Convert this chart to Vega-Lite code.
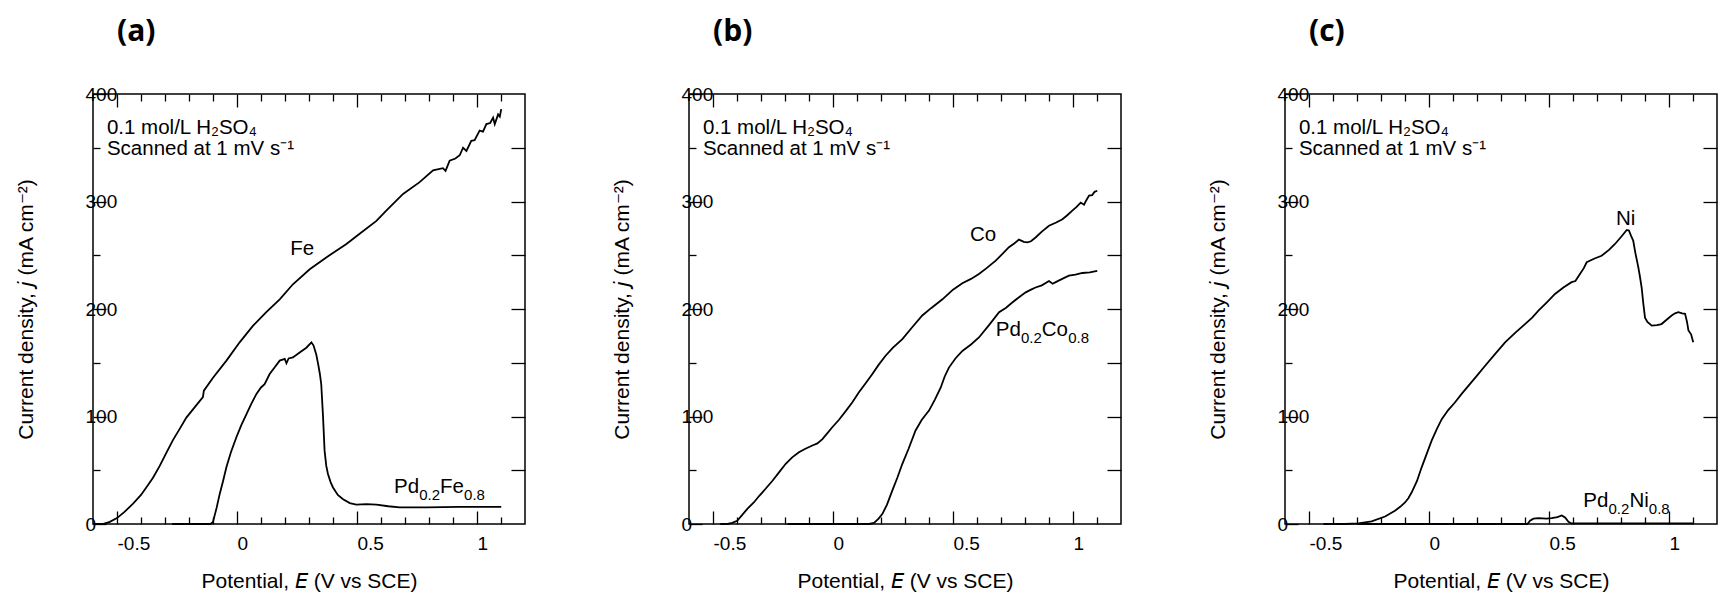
{
"$schema": "https://vega.github.io/schema/vega-lite/v6.json",
"padding": {"left": 14, "top": 16, "right": 0, "bottom": 0},
"autosize": {"type": "pad"},
"spacing": 164,
"bounds": "flush",
"config": {
  "view": {"stroke": "black", "strokeWidth": 1.5},
  "axis": {"grid": false, "domain": false, "tickColor": "black", "tickWidth": 1.3, "labelColor": "black", "labelFont": "Liberation Sans", "labelFontSize": 19, "titleFont": "Liberation Sans", "titleFontSize": 21, "titleFontWeight": "normal", "titleColor": "black", "labelFlush": false, "labelOverlap": false, "labelBound": false},
  "text": {"font": "Liberation Sans", "fontSize": 20.5, "color": "black"},
  "line": {"color": "black", "strokeWidth": 1.8},
  "title": {"anchor": "start", "frame": "group", "dx": 24, "offset": 38, "font": "Open Sans", "fontSize": 30, "fontWeight": "bold", "color": "black", "baseline": "alphabetic"}
},
"datasets": {
  "curves": [
    {"p":"a","s":"Fe","E":-0.6,"j":0},{"p":"a","s":"Fe","E":-0.56,"j":0},{"p":"a","s":"Fe","E":-0.53,"j":2},{"p":"a","s":"Fe","E":-0.5,"j":5.5},{"p":"a","s":"Fe","E":-0.47,"j":11},{"p":"a","s":"Fe","E":-0.433,"j":19},{"p":"a","s":"Fe","E":-0.4,"j":27},{"p":"a","s":"Fe","E":-0.378,"j":34},{"p":"a","s":"Fe","E":-0.35,"j":43},{"p":"a","s":"Fe","E":-0.322,"j":54},{"p":"a","s":"Fe","E":-0.295,"j":66},{"p":"a","s":"Fe","E":-0.267,"j":78},{"p":"a","s":"Fe","E":-0.24,"j":88},{"p":"a","s":"Fe","E":-0.211,"j":99},{"p":"a","s":"Fe","E":-0.175,"j":109},{"p":"a","s":"Fe","E":-0.142,"j":118},{"p":"a","s":"Fe","E":-0.138,"j":124},{"p":"a","s":"Fe","E":-0.1,"j":136},{"p":"a","s":"Fe","E":-0.044,"j":152},{"p":"a","s":"Fe","E":0.011,"j":169},{"p":"a","s":"Fe","E":0.067,"j":184.5},{"p":"a","s":"Fe","E":0.122,"j":197},{"p":"a","s":"Fe","E":0.178,"j":209},{"p":"a","s":"Fe","E":0.233,"j":223},{"p":"a","s":"Fe","E":0.303,"j":237},{"p":"a","s":"Fe","E":0.372,"j":248},{"p":"a","s":"Fe","E":0.456,"j":260.5},{"p":"a","s":"Fe","E":0.511,"j":270},{"p":"a","s":"Fe","E":0.581,"j":282},{"p":"a","s":"Fe","E":0.622,"j":291.5},{"p":"a","s":"Fe","E":0.692,"j":307},{"p":"a","s":"Fe","E":0.761,"j":318},{"p":"a","s":"Fe","E":0.817,"j":329},{"p":"a","s":"Fe","E":0.858,"j":331},{"p":"a","s":"Fe","E":0.869,"j":328.5},{"p":"a","s":"Fe","E":0.886,"j":338},{"p":"a","s":"Fe","E":0.91,"j":340},{"p":"a","s":"Fe","E":0.928,"j":343},{"p":"a","s":"Fe","E":0.942,"j":350},{"p":"a","s":"Fe","E":0.956,"j":347},{"p":"a","s":"Fe","E":0.976,"j":356.5},{"p":"a","s":"Fe","E":0.99,"j":357},{"p":"a","s":"Fe","E":1.011,"j":366},{"p":"a","s":"Fe","E":1.025,"j":365},{"p":"a","s":"Fe","E":1.039,"j":372},{"p":"a","s":"Fe","E":1.055,"j":373},{"p":"a","s":"Fe","E":1.067,"j":378},{"p":"a","s":"Fe","E":1.074,"j":372},{"p":"a","s":"Fe","E":1.088,"j":381},{"p":"a","s":"Fe","E":1.095,"j":379},{"p":"a","s":"Fe","E":1.101,"j":386},
    {"p":"a","s":"PdFe","E":-0.27,"j":0},{"p":"a","s":"PdFe","E":-0.11,"j":0},{"p":"a","s":"PdFe","E":-0.1,"j":2},{"p":"a","s":"PdFe","E":-0.085,"j":15},{"p":"a","s":"PdFe","E":-0.072,"j":28},{"p":"a","s":"PdFe","E":-0.058,"j":40},{"p":"a","s":"PdFe","E":-0.044,"j":53},{"p":"a","s":"PdFe","E":-0.025,"j":67},{"p":"a","s":"PdFe","E":-0.003,"j":80.5},{"p":"a","s":"PdFe","E":0.018,"j":92},{"p":"a","s":"PdFe","E":0.039,"j":102},{"p":"a","s":"PdFe","E":0.06,"j":112},{"p":"a","s":"PdFe","E":0.081,"j":121},{"p":"a","s":"PdFe","E":0.1,"j":127},{"p":"a","s":"PdFe","E":0.115,"j":130},{"p":"a","s":"PdFe","E":0.136,"j":139.5},{"p":"a","s":"PdFe","E":0.158,"j":146},{"p":"a","s":"PdFe","E":0.178,"j":152},{"p":"a","s":"PdFe","E":0.199,"j":153.5},{"p":"a","s":"PdFe","E":0.206,"j":149.5},{"p":"a","s":"PdFe","E":0.215,"j":154},{"p":"a","s":"PdFe","E":0.233,"j":155},{"p":"a","s":"PdFe","E":0.261,"j":159.5},{"p":"a","s":"PdFe","E":0.289,"j":164},{"p":"a","s":"PdFe","E":0.31,"j":169},{"p":"a","s":"PdFe","E":0.319,"j":166},{"p":"a","s":"PdFe","E":0.33,"j":158},{"p":"a","s":"PdFe","E":0.338,"j":149},{"p":"a","s":"PdFe","E":0.345,"j":140},{"p":"a","s":"PdFe","E":0.351,"j":130},{"p":"a","s":"PdFe","E":0.358,"j":102},{"p":"a","s":"PdFe","E":0.365,"j":68},{"p":"a","s":"PdFe","E":0.372,"j":54},{"p":"a","s":"PdFe","E":0.379,"j":46.5},{"p":"a","s":"PdFe","E":0.39,"j":39},{"p":"a","s":"PdFe","E":0.4,"j":34},{"p":"a","s":"PdFe","E":0.42,"j":27},{"p":"a","s":"PdFe","E":0.442,"j":23},{"p":"a","s":"PdFe","E":0.47,"j":19.5},{"p":"a","s":"PdFe","E":0.497,"j":18},{"p":"a","s":"PdFe","E":0.54,"j":18.5},{"p":"a","s":"PdFe","E":0.581,"j":18},{"p":"a","s":"PdFe","E":0.63,"j":16.5},{"p":"a","s":"PdFe","E":0.678,"j":15.5},{"p":"a","s":"PdFe","E":0.789,"j":15.5},{"p":"a","s":"PdFe","E":0.928,"j":16},{"p":"a","s":"PdFe","E":1.101,"j":16},
    {"p":"b","s":"Co","E":-0.47,"j":0},{"p":"b","s":"Co","E":-0.44,"j":0},{"p":"b","s":"Co","E":-0.42,"j":1},{"p":"b","s":"Co","E":-0.399,"j":3},{"p":"b","s":"Co","E":-0.38,"j":8},{"p":"b","s":"Co","E":-0.357,"j":14},{"p":"b","s":"Co","E":-0.33,"j":20},{"p":"b","s":"Co","E":-0.308,"j":26},{"p":"b","s":"Co","E":-0.28,"j":33},{"p":"b","s":"Co","E":-0.253,"j":40},{"p":"b","s":"Co","E":-0.225,"j":48},{"p":"b","s":"Co","E":-0.197,"j":56},{"p":"b","s":"Co","E":-0.17,"j":62},{"p":"b","s":"Co","E":-0.142,"j":66.7},{"p":"b","s":"Co","E":-0.115,"j":70},{"p":"b","s":"Co","E":-0.086,"j":73},{"p":"b","s":"Co","E":-0.065,"j":75},{"p":"b","s":"Co","E":-0.044,"j":79},{"p":"b","s":"Co","E":-0.025,"j":84},{"p":"b","s":"Co","E":-0.003,"j":90},{"p":"b","s":"Co","E":0.025,"j":97},{"p":"b","s":"Co","E":0.053,"j":105},{"p":"b","s":"Co","E":0.08,"j":113},{"p":"b","s":"Co","E":0.108,"j":122.5},{"p":"b","s":"Co","E":0.136,"j":131},{"p":"b","s":"Co","E":0.164,"j":139.5},{"p":"b","s":"Co","E":0.19,"j":148},{"p":"b","s":"Co","E":0.219,"j":156.5},{"p":"b","s":"Co","E":0.25,"j":164},{"p":"b","s":"Co","E":0.289,"j":172},{"p":"b","s":"Co","E":0.33,"j":183},{"p":"b","s":"Co","E":0.372,"j":194},{"p":"b","s":"Co","E":0.41,"j":201},{"p":"b","s":"Co","E":0.456,"j":209},{"p":"b","s":"Co","E":0.5,"j":218},{"p":"b","s":"Co","E":0.539,"j":224},{"p":"b","s":"Co","E":0.575,"j":228},{"p":"b","s":"Co","E":0.608,"j":232.5},{"p":"b","s":"Co","E":0.64,"j":238},{"p":"b","s":"Co","E":0.678,"j":245},{"p":"b","s":"Co","E":0.705,"j":251},{"p":"b","s":"Co","E":0.733,"j":257.5},{"p":"b","s":"Co","E":0.755,"j":261},{"p":"b","s":"Co","E":0.775,"j":264.5},{"p":"b","s":"Co","E":0.795,"j":262.5},{"p":"b","s":"Co","E":0.81,"j":262},{"p":"b","s":"Co","E":0.825,"j":263},{"p":"b","s":"Co","E":0.844,"j":266.5},{"p":"b","s":"Co","E":0.87,"j":272},{"p":"b","s":"Co","E":0.9,"j":277.5},{"p":"b","s":"Co","E":0.93,"j":280.5},{"p":"b","s":"Co","E":0.956,"j":283.5},{"p":"b","s":"Co","E":0.975,"j":287},{"p":"b","s":"Co","E":0.997,"j":291.5},{"p":"b","s":"Co","E":1.015,"j":295},{"p":"b","s":"Co","E":1.032,"j":299},{"p":"b","s":"Co","E":1.046,"j":297},{"p":"b","s":"Co","E":1.055,"j":301},{"p":"b","s":"Co","E":1.067,"j":305.5},{"p":"b","s":"Co","E":1.08,"j":306},{"p":"b","s":"Co","E":1.09,"j":309},{"p":"b","s":"Co","E":1.101,"j":310},
    {"p":"b","s":"PdCo","E":-0.19,"j":0},{"p":"b","s":"PdCo","E":0.15,"j":0},{"p":"b","s":"PdCo","E":0.171,"j":1},{"p":"b","s":"PdCo","E":0.19,"j":5},{"p":"b","s":"PdCo","E":0.206,"j":9.5},{"p":"b","s":"PdCo","E":0.225,"j":18},{"p":"b","s":"PdCo","E":0.247,"j":31},{"p":"b","s":"PdCo","E":0.268,"j":43},{"p":"b","s":"PdCo","E":0.289,"j":56},{"p":"b","s":"PdCo","E":0.315,"j":70},{"p":"b","s":"PdCo","E":0.344,"j":87},{"p":"b","s":"PdCo","E":0.37,"j":97},{"p":"b","s":"PdCo","E":0.4,"j":105.5},{"p":"b","s":"PdCo","E":0.425,"j":116},{"p":"b","s":"PdCo","E":0.449,"j":127},{"p":"b","s":"PdCo","E":0.465,"j":137},{"p":"b","s":"PdCo","E":0.483,"j":145.5},{"p":"b","s":"PdCo","E":0.51,"j":154},{"p":"b","s":"PdCo","E":0.539,"j":161},{"p":"b","s":"PdCo","E":0.575,"j":167},{"p":"b","s":"PdCo","E":0.608,"j":173.5},{"p":"b","s":"PdCo","E":0.65,"j":185},{"p":"b","s":"PdCo","E":0.692,"j":197},{"p":"b","s":"PdCo","E":0.72,"j":201},{"p":"b","s":"PdCo","E":0.747,"j":206},{"p":"b","s":"PdCo","E":0.775,"j":211},{"p":"b","s":"PdCo","E":0.803,"j":215.5},{"p":"b","s":"PdCo","E":0.825,"j":218},{"p":"b","s":"PdCo","E":0.844,"j":220},{"p":"b","s":"PdCo","E":0.87,"j":222},{"p":"b","s":"PdCo","E":0.9,"j":226},{"p":"b","s":"PdCo","E":0.915,"j":223.5},{"p":"b","s":"PdCo","E":0.928,"j":225},{"p":"b","s":"PdCo","E":0.955,"j":228},{"p":"b","s":"PdCo","E":0.983,"j":231},{"p":"b","s":"PdCo","E":1.01,"j":232},{"p":"b","s":"PdCo","E":1.039,"j":233.5},{"p":"b","s":"PdCo","E":1.07,"j":234},{"p":"b","s":"PdCo","E":1.101,"j":235.5},
    {"p":"c","s":"Ni","E":-0.44,"j":0},{"p":"c","s":"Ni","E":-0.35,"j":0},{"p":"c","s":"Ni","E":-0.294,"j":0.6},{"p":"c","s":"Ni","E":-0.239,"j":2.5},{"p":"c","s":"Ni","E":-0.183,"j":7},{"p":"c","s":"Ni","E":-0.142,"j":12.4},{"p":"c","s":"Ni","E":-0.12,"j":16},{"p":"c","s":"Ni","E":-0.1,"j":20},{"p":"c","s":"Ni","E":-0.086,"j":24},{"p":"c","s":"Ni","E":-0.072,"j":29.5},{"p":"c","s":"Ni","E":-0.05,"j":40},{"p":"c","s":"Ni","E":-0.031,"j":52.5},{"p":"c","s":"Ni","E":-0.01,"j":65},{"p":"c","s":"Ni","E":0.011,"j":77.5},{"p":"c","s":"Ni","E":0.032,"j":88},{"p":"c","s":"Ni","E":0.053,"j":97.5},{"p":"c","s":"Ni","E":0.08,"j":106},{"p":"c","s":"Ni","E":0.108,"j":113},{"p":"c","s":"Ni","E":0.136,"j":121},{"p":"c","s":"Ni","E":0.164,"j":128.5},{"p":"c","s":"Ni","E":0.2,"j":138},{"p":"c","s":"Ni","E":0.233,"j":147},{"p":"c","s":"Ni","E":0.275,"j":158},{"p":"c","s":"Ni","E":0.317,"j":169},{"p":"c","s":"Ni","E":0.36,"j":178},{"p":"c","s":"Ni","E":0.4,"j":186},{"p":"c","s":"Ni","E":0.43,"j":192},{"p":"c","s":"Ni","E":0.456,"j":198.5},{"p":"c","s":"Ni","E":0.49,"j":206},{"p":"c","s":"Ni","E":0.525,"j":214},{"p":"c","s":"Ni","E":0.56,"j":220},{"p":"c","s":"Ni","E":0.594,"j":225},{"p":"c","s":"Ni","E":0.61,"j":226},{"p":"c","s":"Ni","E":0.629,"j":232.5},{"p":"c","s":"Ni","E":0.645,"j":238},{"p":"c","s":"Ni","E":0.657,"j":243.5},{"p":"c","s":"Ni","E":0.69,"j":247},{"p":"c","s":"Ni","E":0.719,"j":249.5},{"p":"c","s":"Ni","E":0.75,"j":255},{"p":"c","s":"Ni","E":0.775,"j":260.5},{"p":"c","s":"Ni","E":0.8,"j":267},{"p":"c","s":"Ni","E":0.824,"j":273.5},{"p":"c","s":"Ni","E":0.833,"j":273},{"p":"c","s":"Ni","E":0.842,"j":268},{"p":"c","s":"Ni","E":0.851,"j":263.5},{"p":"c","s":"Ni","E":0.86,"j":252},{"p":"c","s":"Ni","E":0.872,"j":239},{"p":"c","s":"Ni","E":0.879,"j":230},{"p":"c","s":"Ni","E":0.886,"j":220},{"p":"c","s":"Ni","E":0.893,"j":205},{"p":"c","s":"Ni","E":0.9,"j":192},{"p":"c","s":"Ni","E":0.91,"j":188},{"p":"c","s":"Ni","E":0.928,"j":184.5},{"p":"c","s":"Ni","E":0.95,"j":185},{"p":"c","s":"Ni","E":0.969,"j":186},{"p":"c","s":"Ni","E":0.99,"j":190},{"p":"c","s":"Ni","E":1.011,"j":194},{"p":"c","s":"Ni","E":1.025,"j":196},{"p":"c","s":"Ni","E":1.039,"j":197},{"p":"c","s":"Ni","E":1.055,"j":196},{"p":"c","s":"Ni","E":1.067,"j":195.5},{"p":"c","s":"Ni","E":1.075,"j":188},{"p":"c","s":"Ni","E":1.081,"j":180},{"p":"c","s":"Ni","E":1.092,"j":176.5},{"p":"c","s":"Ni","E":1.101,"j":169},
    {"p":"c","s":"PdNi","E":-0.3,"j":0},{"p":"c","s":"PdNi","E":0.41,"j":0},{"p":"c","s":"PdNi","E":0.421,"j":3},{"p":"c","s":"PdNi","E":0.435,"j":5},{"p":"c","s":"PdNi","E":0.456,"j":5.5},{"p":"c","s":"PdNi","E":0.49,"j":5},{"p":"c","s":"PdNi","E":0.511,"j":5.5},{"p":"c","s":"PdNi","E":0.535,"j":6.5},{"p":"c","s":"PdNi","E":0.553,"j":8},{"p":"c","s":"PdNi","E":0.567,"j":6},{"p":"c","s":"PdNi","E":0.581,"j":2},{"p":"c","s":"PdNi","E":0.594,"j":0.5},{"p":"c","s":"PdNi","E":0.7,"j":0.5},{"p":"c","s":"PdNi","E":1.101,"j":0.5}
  ],
  "labels": [
    {"p":"a","k":"cond","E":-0.542,"j":368,"t":"0.1 mol/L H₂SO₄"},
    {"p":"a","k":"cond","E":-0.542,"j":349,"t":"Scanned at 1 mV s⁻¹"},
    {"p":"a","k":"ser","E":0.222,"j":256,"t":"Fe"},
    {"p":"a","k":"ser","E":0.654,"j":34,"t":"Pd"},
    {"p":"a","k":"sub","E":0.759,"j":34,"t":"0.2"},
    {"p":"a","k":"ser","E":0.846,"j":34,"t":"Fe"},
    {"p":"a","k":"sub","E":0.946,"j":34,"t":"0.8"},
    {"p":"b","k":"cond","E":-0.542,"j":368,"t":"0.1 mol/L H₂SO₄"},
    {"p":"b","k":"cond","E":-0.542,"j":349,"t":"Scanned at 1 mV s⁻¹"},
    {"p":"b","k":"ser","E":0.571,"j":269,"t":"Co"},
    {"p":"b","k":"ser","E":0.678,"j":180.5,"t":"Pd"},
    {"p":"b","k":"sub","E":0.783,"j":180.5,"t":"0.2"},
    {"p":"b","k":"ser","E":0.870,"j":180.5,"t":"Co"},
    {"p":"b","k":"sub","E":0.980,"j":180.5,"t":"0.8"},
    {"p":"c","k":"cond","E":-0.542,"j":368,"t":"0.1 mol/L H₂SO₄"},
    {"p":"c","k":"cond","E":-0.542,"j":349,"t":"Scanned at 1 mV s⁻¹"},
    {"p":"c","k":"ser","E":0.779,"j":283.7,"t":"Ni"},
    {"p":"c","k":"ser","E":0.643,"j":21,"t":"Pd"},
    {"p":"c","k":"sub","E":0.748,"j":21,"t":"0.2"},
    {"p":"c","k":"ser","E":0.835,"j":21,"t":"Ni"},
    {"p":"c","k":"sub","E":0.916,"j":21,"t":"0.8"}
  ]
},
"hconcat": [
  {
    "title": {"text": "(a)"},
    "width": 432, "height": 430,
    "resolve": {"axis": {"x": "independent", "y": "independent"}},
    "layer": [
      {"data": {"name": "curves"}, "transform": [{"filter": "datum.p === 'a' && datum.s === 'Fe'"}],
       "mark": {"type": "line"},
       "encoding": {
         "x": {"field": "E", "type": "quantitative", "scale": {"domain": [-0.6, 1.2], "nice": false, "zero": false},
               "axis": {"orient": "bottom", "values": [-0.5, 0, 0.5, 1], "tickSize": -13, "labelAlign": "left", "labelPadding": 23, "labelExpr": "replace(format(datum.value, '~g'), '−', '-')", "title": "Potential, 𝘌 (V vs SCE)", "titlePadding": 17}},
         "y": {"field": "j", "type": "quantitative", "scale": {"domain": [0, 400], "nice": false, "zero": false},
               "axis": {"orient": "left", "values": [0, 100, 200, 300, 400], "tickSize": -13, "labelAlign": "left", "labelPadding": 21, "format": "d", "title": "Current density, 𝘫 (mA cm⁻²)", "titlePadding": 49}}
       }},
      {"data": {"name": "curves"}, "transform": [{"filter": "datum.p === 'a' && datum.s === 'PdFe'"}],
       "mark": {"type": "line"},
       "encoding": {
         "x": {"field": "E", "type": "quantitative", "scale": {"domain": [-0.6, 1.2], "nice": false, "zero": false},
               "axis": {"orient": "bottom", "values": [-0.4, -0.3, -0.2, -0.1, 0.1, 0.2, 0.3, 0.4, 0.6, 0.7, 0.8, 0.9, 1.1], "tickSize": -7, "labels": false, "title": null}},
         "y": {"field": "j", "type": "quantitative", "scale": {"domain": [0, 400], "nice": false, "zero": false},
               "axis": {"orient": "left", "values": [50, 150, 250, 350], "tickSize": -7, "labels": false, "title": null}}
       }},
      {"data": {"name": "labels"}, "transform": [{"filter": "datum.p === 'a' && datum.k === 'cond'"}],
       "mark": {"type": "text", "align": "left", "baseline": "middle"},
       "encoding": {
         "x": {"field": "E", "type": "quantitative", "scale": {"domain": [-0.6, 1.2], "nice": false, "zero": false},
               "axis": {"orient": "top", "values": [-0.5, 0, 0.5, 1], "tickSize": -13, "labels": false, "title": null}},
         "y": {"field": "j", "type": "quantitative", "scale": {"domain": [0, 400], "nice": false, "zero": false},
               "axis": {"orient": "right", "values": [50, 100, 150, 200, 250, 300, 350], "tickSize": -14, "labels": false, "title": null}},
         "text": {"field": "t"}
       }},
      {"data": {"name": "labels"}, "transform": [{"filter": "datum.p === 'a' && datum.k === 'ser'"}],
       "mark": {"type": "text", "align": "left", "baseline": "middle"},
       "encoding": {
         "x": {"field": "E", "type": "quantitative", "scale": {"domain": [-0.6, 1.2], "nice": false, "zero": false},
               "axis": {"orient": "top", "values": [-0.4, -0.3, -0.2, -0.1, 0.1, 0.2, 0.3, 0.4, 0.6, 0.7, 0.8, 0.9, 1.1], "tickSize": -7, "labels": false, "title": null}},
         "y": {"field": "j", "type": "quantitative", "scale": {"domain": [0, 400], "nice": false, "zero": false}, "axis": null},
         "text": {"field": "t"}
       }},
      {"data": {"name": "labels"}, "transform": [{"filter": "datum.p === 'a' && datum.k === 'sub'"}],
       "mark": {"type": "text", "align": "left", "baseline": "middle", "fontSize": 15, "dy": 8},
       "encoding": {
         "x": {"field": "E", "type": "quantitative", "scale": {"domain": [-0.6, 1.2], "nice": false, "zero": false}, "axis": null},
         "y": {"field": "j", "type": "quantitative", "scale": {"domain": [0, 400], "nice": false, "zero": false}, "axis": null},
         "text": {"field": "t"}
       }}
    ]
  },
  {
    "title": {"text": "(b)"},
    "width": 432, "height": 430,
    "resolve": {"axis": {"x": "independent", "y": "independent"}},
    "layer": [
      {"data": {"name": "curves"}, "transform": [{"filter": "datum.p === 'b' && datum.s === 'Co'"}],
       "mark": {"type": "line"},
       "encoding": {
         "x": {"field": "E", "type": "quantitative", "scale": {"domain": [-0.6, 1.2], "nice": false, "zero": false},
               "axis": {"orient": "bottom", "values": [-0.5, 0, 0.5, 1], "tickSize": -13, "labelAlign": "left", "labelPadding": 23, "labelExpr": "replace(format(datum.value, '~g'), '−', '-')", "title": "Potential, 𝘌 (V vs SCE)", "titlePadding": 17}},
         "y": {"field": "j", "type": "quantitative", "scale": {"domain": [0, 400], "nice": false, "zero": false},
               "axis": {"orient": "left", "values": [0, 100, 200, 300, 400], "tickSize": -13, "labelAlign": "left", "labelPadding": 21, "format": "d", "title": "Current density, 𝘫 (mA cm⁻²)", "titlePadding": 49}}
       }},
      {"data": {"name": "curves"}, "transform": [{"filter": "datum.p === 'b' && datum.s === 'PdCo'"}],
       "mark": {"type": "line"},
       "encoding": {
         "x": {"field": "E", "type": "quantitative", "scale": {"domain": [-0.6, 1.2], "nice": false, "zero": false},
               "axis": {"orient": "bottom", "values": [-0.4, -0.3, -0.2, -0.1, 0.1, 0.2, 0.3, 0.4, 0.6, 0.7, 0.8, 0.9, 1.1], "tickSize": -7, "labels": false, "title": null}},
         "y": {"field": "j", "type": "quantitative", "scale": {"domain": [0, 400], "nice": false, "zero": false},
               "axis": {"orient": "left", "values": [50, 150, 250, 350], "tickSize": -7, "labels": false, "title": null}}
       }},
      {"data": {"name": "labels"}, "transform": [{"filter": "datum.p === 'b' && datum.k === 'cond'"}],
       "mark": {"type": "text", "align": "left", "baseline": "middle"},
       "encoding": {
         "x": {"field": "E", "type": "quantitative", "scale": {"domain": [-0.6, 1.2], "nice": false, "zero": false},
               "axis": {"orient": "top", "values": [-0.5, 0, 0.5, 1], "tickSize": -13, "labels": false, "title": null}},
         "y": {"field": "j", "type": "quantitative", "scale": {"domain": [0, 400], "nice": false, "zero": false},
               "axis": {"orient": "right", "values": [50, 100, 150, 200, 250, 300, 350], "tickSize": -14, "labels": false, "title": null}},
         "text": {"field": "t"}
       }},
      {"data": {"name": "labels"}, "transform": [{"filter": "datum.p === 'b' && datum.k === 'ser'"}],
       "mark": {"type": "text", "align": "left", "baseline": "middle"},
       "encoding": {
         "x": {"field": "E", "type": "quantitative", "scale": {"domain": [-0.6, 1.2], "nice": false, "zero": false},
               "axis": {"orient": "top", "values": [-0.4, -0.3, -0.2, -0.1, 0.1, 0.2, 0.3, 0.4, 0.6, 0.7, 0.8, 0.9, 1.1], "tickSize": -7, "labels": false, "title": null}},
         "y": {"field": "j", "type": "quantitative", "scale": {"domain": [0, 400], "nice": false, "zero": false}, "axis": null},
         "text": {"field": "t"}
       }},
      {"data": {"name": "labels"}, "transform": [{"filter": "datum.p === 'b' && datum.k === 'sub'"}],
       "mark": {"type": "text", "align": "left", "baseline": "middle", "fontSize": 15, "dy": 8},
       "encoding": {
         "x": {"field": "E", "type": "quantitative", "scale": {"domain": [-0.6, 1.2], "nice": false, "zero": false}, "axis": null},
         "y": {"field": "j", "type": "quantitative", "scale": {"domain": [0, 400], "nice": false, "zero": false}, "axis": null},
         "text": {"field": "t"}
       }}
    ]
  },
  {
    "title": {"text": "(c)"},
    "width": 432, "height": 430,
    "resolve": {"axis": {"x": "independent", "y": "independent"}},
    "layer": [
      {"data": {"name": "curves"}, "transform": [{"filter": "datum.p === 'c' && datum.s === 'Ni'"}],
       "mark": {"type": "line"},
       "encoding": {
         "x": {"field": "E", "type": "quantitative", "scale": {"domain": [-0.6, 1.2], "nice": false, "zero": false},
               "axis": {"orient": "bottom", "values": [-0.5, 0, 0.5, 1], "tickSize": -13, "labelAlign": "left", "labelPadding": 23, "labelExpr": "replace(format(datum.value, '~g'), '−', '-')", "title": "Potential, 𝘌 (V vs SCE)", "titlePadding": 17}},
         "y": {"field": "j", "type": "quantitative", "scale": {"domain": [0, 400], "nice": false, "zero": false},
               "axis": {"orient": "left", "values": [0, 100, 200, 300, 400], "tickSize": -13, "labelAlign": "left", "labelPadding": 21, "format": "d", "title": "Current density, 𝘫 (mA cm⁻²)", "titlePadding": 49}}
       }},
      {"data": {"name": "curves"}, "transform": [{"filter": "datum.p === 'c' && datum.s === 'PdNi'"}],
       "mark": {"type": "line"},
       "encoding": {
         "x": {"field": "E", "type": "quantitative", "scale": {"domain": [-0.6, 1.2], "nice": false, "zero": false},
               "axis": {"orient": "bottom", "values": [-0.4, -0.3, -0.2, -0.1, 0.1, 0.2, 0.3, 0.4, 0.6, 0.7, 0.8, 0.9, 1.1], "tickSize": -7, "labels": false, "title": null}},
         "y": {"field": "j", "type": "quantitative", "scale": {"domain": [0, 400], "nice": false, "zero": false},
               "axis": {"orient": "left", "values": [50, 150, 250, 350], "tickSize": -7, "labels": false, "title": null}}
       }},
      {"data": {"name": "labels"}, "transform": [{"filter": "datum.p === 'c' && datum.k === 'cond'"}],
       "mark": {"type": "text", "align": "left", "baseline": "middle"},
       "encoding": {
         "x": {"field": "E", "type": "quantitative", "scale": {"domain": [-0.6, 1.2], "nice": false, "zero": false},
               "axis": {"orient": "top", "values": [-0.5, 0, 0.5, 1], "tickSize": -13, "labels": false, "title": null}},
         "y": {"field": "j", "type": "quantitative", "scale": {"domain": [0, 400], "nice": false, "zero": false},
               "axis": {"orient": "right", "values": [50, 100, 150, 200, 250, 300, 350], "tickSize": -14, "labels": false, "title": null}},
         "text": {"field": "t"}
       }},
      {"data": {"name": "labels"}, "transform": [{"filter": "datum.p === 'c' && datum.k === 'ser'"}],
       "mark": {"type": "text", "align": "left", "baseline": "middle"},
       "encoding": {
         "x": {"field": "E", "type": "quantitative", "scale": {"domain": [-0.6, 1.2], "nice": false, "zero": false},
               "axis": {"orient": "top", "values": [-0.4, -0.3, -0.2, -0.1, 0.1, 0.2, 0.3, 0.4, 0.6, 0.7, 0.8, 0.9, 1.1], "tickSize": -7, "labels": false, "title": null}},
         "y": {"field": "j", "type": "quantitative", "scale": {"domain": [0, 400], "nice": false, "zero": false}, "axis": null},
         "text": {"field": "t"}
       }},
      {"data": {"name": "labels"}, "transform": [{"filter": "datum.p === 'c' && datum.k === 'sub'"}],
       "mark": {"type": "text", "align": "left", "baseline": "middle", "fontSize": 15, "dy": 8},
       "encoding": {
         "x": {"field": "E", "type": "quantitative", "scale": {"domain": [-0.6, 1.2], "nice": false, "zero": false}, "axis": null},
         "y": {"field": "j", "type": "quantitative", "scale": {"domain": [0, 400], "nice": false, "zero": false}, "axis": null},
         "text": {"field": "t"}
       }}
    ]
  }
]
}
